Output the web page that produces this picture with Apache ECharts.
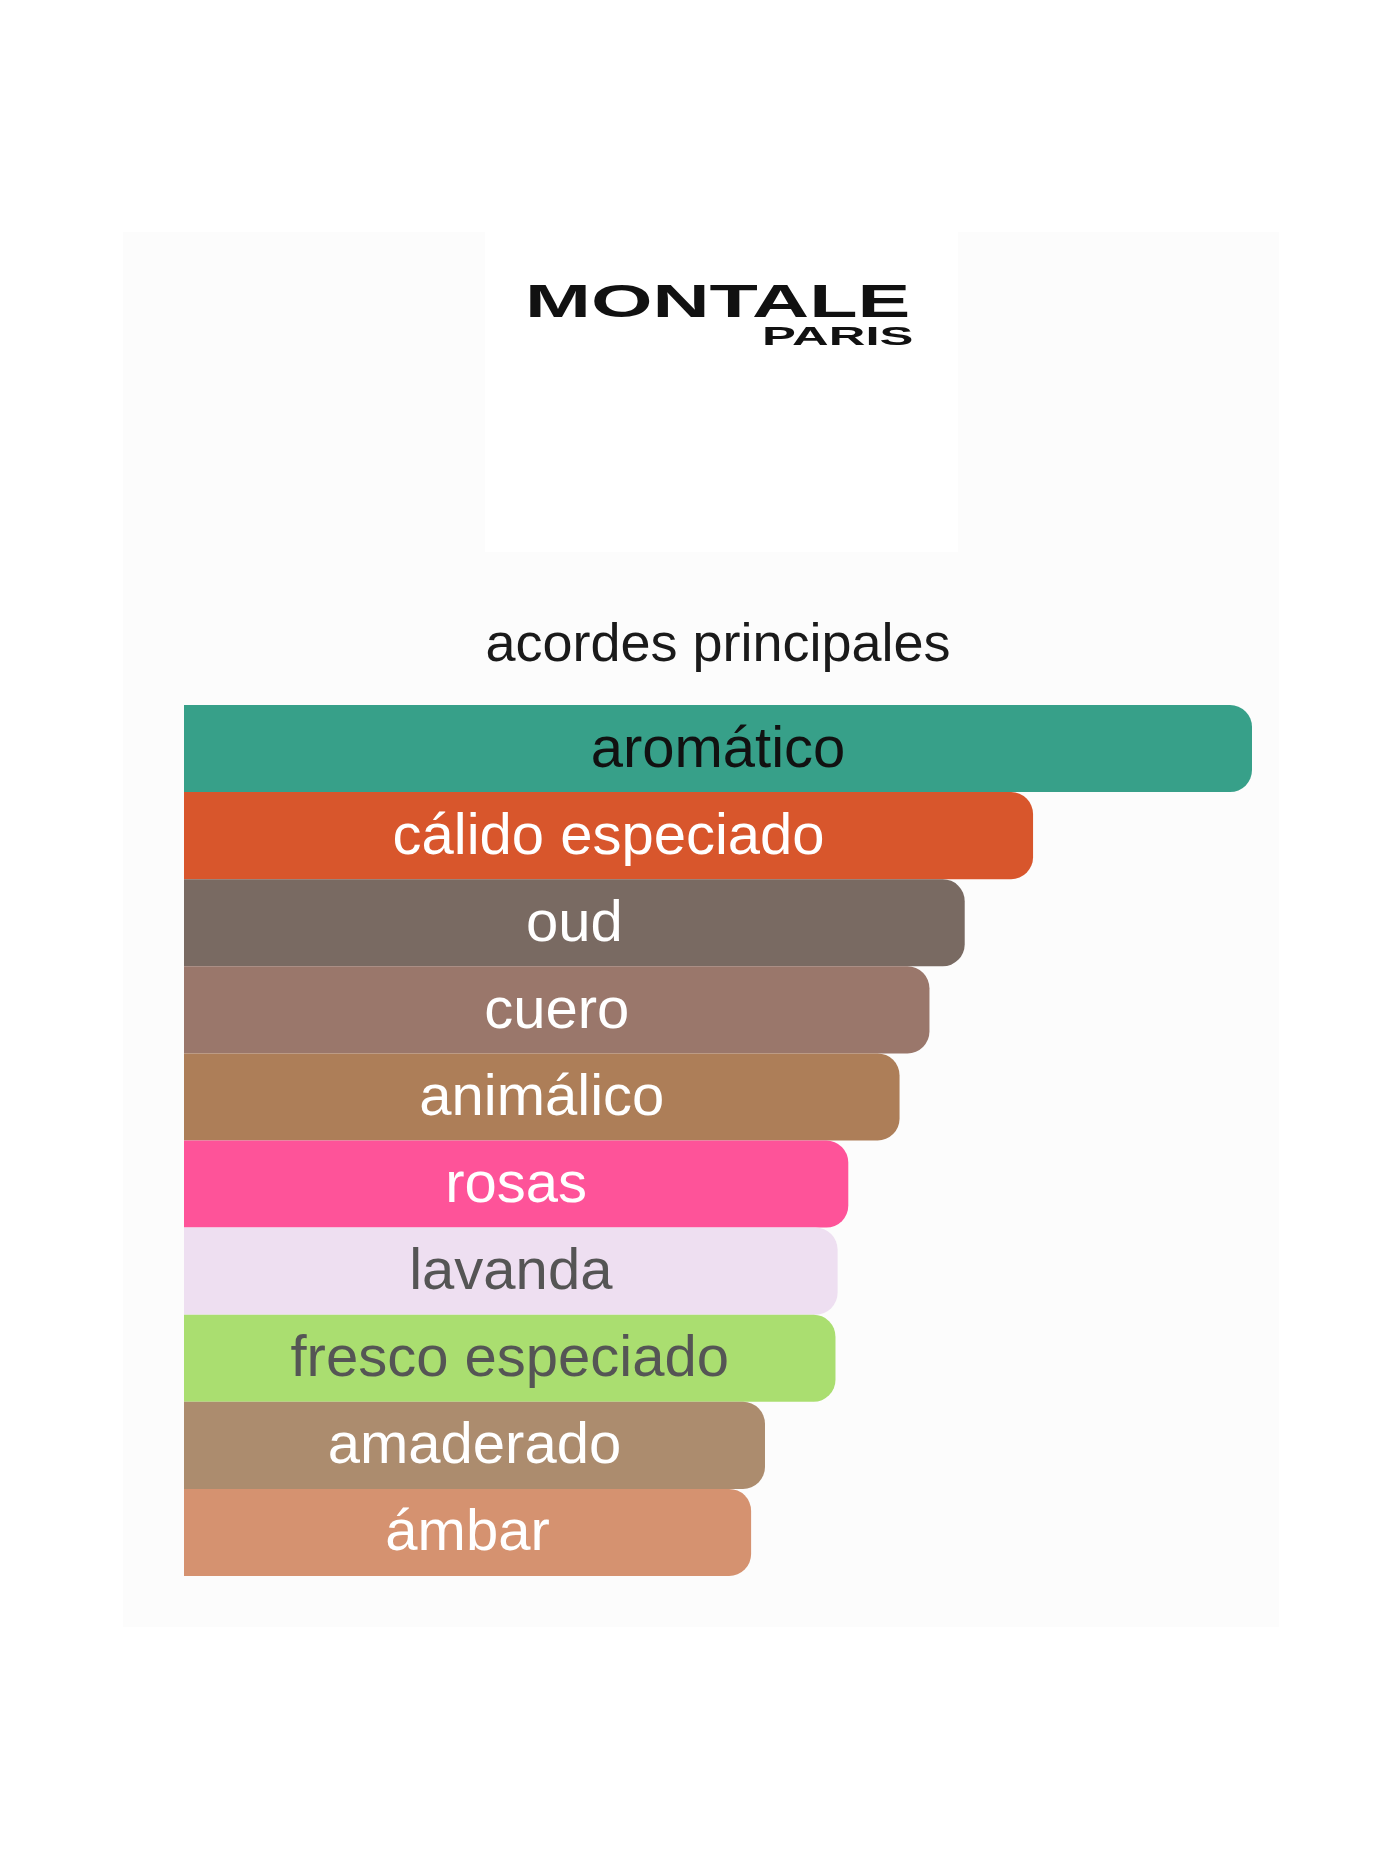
<!DOCTYPE html>
<html>
<head>
<meta charset="utf-8">
<script src="https://cdn.jsdelivr.net/npm/echarts@6/dist/echarts.min.js"></script>
<style>
  html, body { margin: 0; padding: 0; background: #ffffff; }
  #chart { width: 1400px; height: 1861px; }
</style>
</head>
<body>
<div id="chart"></div>
<script>
const categories = ['aromático', 'cálido especiado', 'oud', 'cuero', 'animálico', 'rosas', 'lavanda', 'fresco especiado', 'amaderado', 'ámbar'];
const values = [100, 79.5, 73.1, 69.8, 67.0, 62.2, 61.2, 61.0, 54.4, 53.1];
const barColors = ['#37a089', '#d8562c', '#796a62', '#9a776b', '#ad7e58', '#fe5399', '#eedff1', '#aade70', '#ac8c6e', '#d59270'];
const labelColors = ['#111111', '#ffffff', '#ffffff', '#ffffff', '#ffffff', '#ffffff', '#555555', '#555555', '#ffffff', '#ffffff'];
const titleText = 'acordes principales';
const brandName = 'MONTALE';
const brandCity = 'PARIS';

const chart = echarts.init(document.getElementById('chart'), null, { renderer: 'canvas', width: 1400, height: 1861 });

const option = {
  backgroundColor: '#ffffff',
  animation: false,
  grid: { left: 184, top: 705, width: 1068, height: 871, containLabel: false },
  xAxis: { type: 'value', min: 0, max: 100, show: false },
  yAxis: { type: 'category', data: categories, inverse: true, show: false },
  graphic: [
    { type: 'rect', z: 0, shape: { x: 123, y: 232, width: 1156, height: 1395 }, style: { fill: '#fcfcfc' } },
    { type: 'rect', z: 0, shape: { x: 485, y: 232, width: 473, height: 320 }, style: { fill: '#ffffff' } },
    { type: 'text', z: 1, x: 525, y: 304, scaleX: 1.72,
      style: { text: brandName, font: 'bold 46px "Liberation Sans"', fill: '#111111',
               align: 'left', textAlign: 'left', verticalAlign: 'middle', textVerticalAlign: 'middle' } },
    { type: 'text', z: 1, x: 762, y: 338, scaleX: 2.03,
      style: { text: brandCity, font: 'bold 25px "Liberation Sans"', fill: '#111111',
               align: 'left', textAlign: 'left', verticalAlign: 'middle', textVerticalAlign: 'middle' } },
    { type: 'text', z: 1, x: 718, y: 646,
      style: { text: titleText, font: '54px "Liberation Sans"', fill: '#1a1a1a',
               align: 'center', textAlign: 'center', verticalAlign: 'middle', textVerticalAlign: 'middle' } }
  ],
  series: [{
    type: 'bar',
    barWidth: '100%',
    barCategoryGap: '0%',
    data: values.map((v, i) => ({
      value: v,
      itemStyle: { color: barColors[i], borderRadius: [0, 22, 22, 0] },
      label: { color: labelColors[i] }
    })),
    label: {
      show: true,
      position: 'inside',
      offset: [0, 2],
      formatter: (p) => categories[p.dataIndex],
      fontSize: 58,
      fontFamily: 'Liberation Sans',
      fontWeight: 'normal',
      textBorderWidth: 0
    },
    emphasis: { disabled: true }
  }]
};

chart.setOption(option);
</script>
</body>
</html>
